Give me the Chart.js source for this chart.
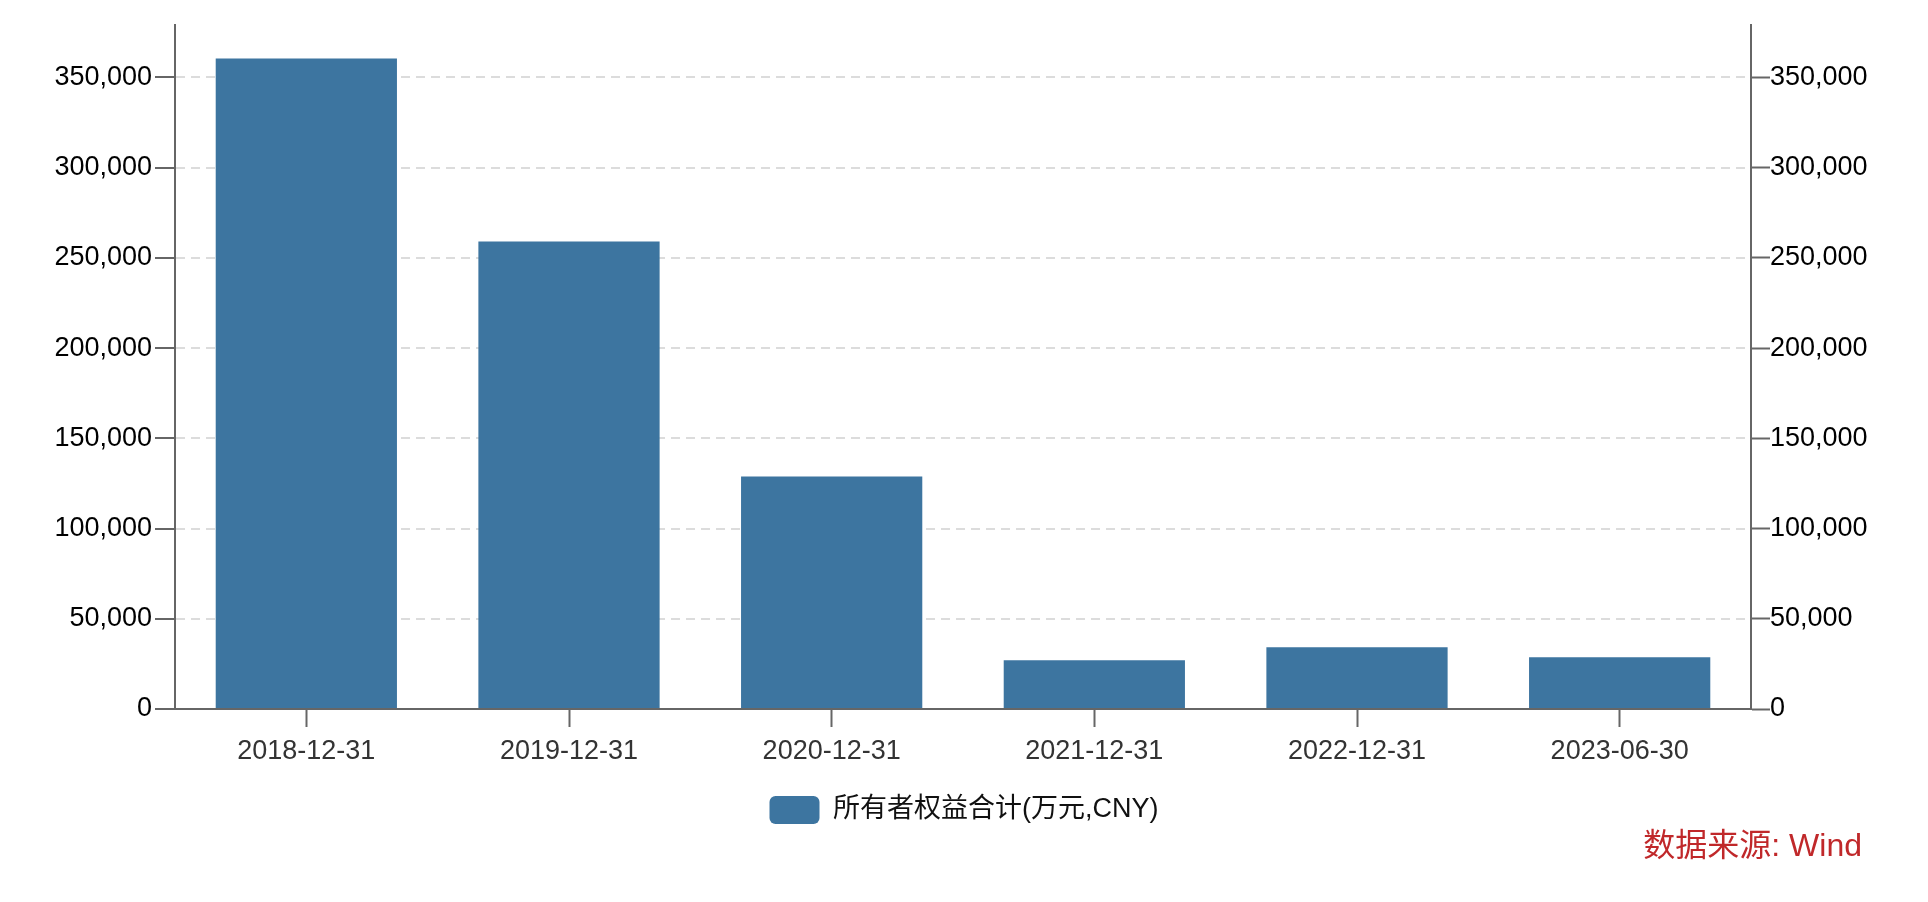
<!DOCTYPE html>
<html>
<head>
<meta charset="utf-8">
<script src="https://cdn.jsdelivr.net/npm/chart.js@4"></script>
<style>
  html, body { margin: 0; padding: 0; background: #fff; }
  #wrap { width: 1928px; height: 902px; position: relative; }
</style>
</head>
<body>
<div id="wrap"><canvas id="chart_equity"></canvas></div>
<script>
// 所有者权益合计, 万元
var categories = ['2018-12-31', '2019-12-31', '2020-12-31', '2021-12-31', '2022-12-31', '2023-06-30'];
var equityValues = [360500, 259000, 128800, 27000, 34200, 28700];
var yTickValues = [0, 50000, 100000, 150000, 200000, 250000, 300000, 350000];
var seriesName = '所有者权益合计(万元,CNY)';
var sourceText = '数据来源: Wind';
var axisMax = 379000;

var fontFamily = '"Liberation Sans", Arial, "Noto Sans CJK SC", sans-serif';

function fmt(v) {
    return Number(v).toLocaleString('en-US');
}

function fixedTicks(scale) {
    scale.ticks = yTickValues.map(function (v) { return { value: v }; });
}

var chart_equity = new Chart(document.getElementById('chart_equity'), {
    type: 'bar',
    data: {
        labels: categories,
        datasets: [{
            label: seriesName,
            data: equityValues,
            backgroundColor: '#3d75a0',
            borderWidth: 0,
            barPercentage: 0.69,
            categoryPercentage: 1.0,
            yAxisID: 'y'
        }]
    },
    options: {
        animation: false,
        responsive: true,
        maintainAspectRatio: false,
        layout: {
            padding: { top: 25, left: 0, right: 0, bottom: 68 }
        },
        plugins: {
            tooltip: { enabled: false },
            legend: {
                position: 'bottom',
                labels: {
                    boxWidth: 50,
                    boxHeight: 28,
                    useBorderRadius: true,
                    borderRadius: 6,
                    color: '#111',
                    padding: 10,
                    font: { family: fontFamily, size: 27 }
                }
            }
        },
        scales: {
            x: {
                grid: {
                    offset: false,
                    drawOnChartArea: false,
                    drawTicks: true,
                    tickLength: 18,
                    tickColor: '#666',
                    tickWidth: 2
                },
                border: { display: true, color: '#666', width: 2 },
                ticks: {
                    color: '#333',
                    padding: 8,
                    font: { family: fontFamily, size: 27 }
                },
                afterFit: function (scale) { scale.height = 77; }
            },
            y: {
                position: 'left',
                min: 0,
                max: axisMax,
                afterBuildTicks: fixedTicks,
                grid: {
                    color: '#dcdcdc',
                    lineWidth: 2,
                    tickLength: 20,
                    tickColor: '#666',
                    tickWidth: 2
                },
                border: { display: true, color: '#666', width: 2, dash: [9, 6] },
                ticks: {
                    color: '#000',
                    padding: 3,
                    font: { family: fontFamily, size: 27 },
                    callback: function (v) { return fmt(v); }
                },
                afterFit: function (scale) { scale.width = 175; }
            },
            y2: {
                position: 'right',
                min: 0,
                max: axisMax,
                afterBuildTicks: fixedTicks,
                grid: {
                    drawOnChartArea: false,
                    tickLength: 19,
                    tickColor: '#666',
                    tickWidth: 2
                },
                border: { display: true, color: '#666', width: 2 },
                ticks: {
                    color: '#000',
                    padding: 0,
                    font: { family: fontFamily, size: 27 },
                    callback: function (v) { return fmt(v); }
                },
                afterFit: function (scale) { scale.width = 177; }
            }
        }
    },
    plugins: [{
        id: 'sourceNote',
        afterDraw: function (chart) {
            var ctx = chart.ctx;
            ctx.save();
            ctx.font = '32px ' + fontFamily;
            ctx.fillStyle = '#c0282a';
            ctx.textAlign = 'right';
            ctx.textBaseline = 'middle';
            ctx.fillText(sourceText, 1862, 847);
            ctx.restore();
        }
    }, {
        id: 'whiteBg',
        beforeDraw: function (chart) {
            var ctx = chart.canvas.getContext('2d');
            ctx.save();
            ctx.globalCompositeOperation = 'destination-over';
            ctx.fillStyle = 'white';
            ctx.fillRect(0, 0, chart.canvas.width, chart.canvas.height);
            ctx.restore();
        }
    }]
});
</script>
</body>
</html>
